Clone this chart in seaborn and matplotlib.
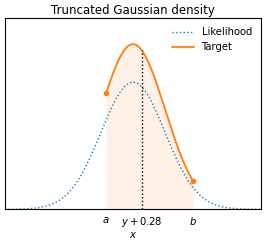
import numpy as np
import pandas as pd
import matplotlib
matplotlib.use("Agg")
import matplotlib.pyplot as plt
import seaborn as sns
from math import erf, sqrt, pi

sns.set_style("white")
plt.rcParams['font.family'] = ['DejaVu Sans']
plt.rcParams['text.color'] = 'black'
plt.rcParams['axes.labelcolor'] = 'black'
plt.rcParams['xtick.color'] = 'black'

# Parameters
mu = 0.0
sigma = 1.0
a_val = -0.84
b_val = 1.88
mean_offset = 0.28
x_min, x_max = -4.0, 4.0
tick_labels = ["$a$", "$y + 0.28$", "$b$"]
series_names = ["Likelihood", "Target"]

def pdf(x):
    return np.exp(-0.5 * ((x - mu) / sigma) ** 2) / (sigma * sqrt(2 * pi))

def cdf(x):
    return 0.5 * (1 + erf((x - mu) / (sigma * sqrt(2))))

Z = cdf(b_val) - cdf(a_val)
xs = np.linspace(x_min, x_max, 801)
xt = np.linspace(a_val, b_val, 400)
df_l = pd.DataFrame({"x": xs, "y": pdf(xs), "s": series_names[0]})
df_t = pd.DataFrame({"x": xt, "y": pdf(xt) / Z, "s": series_names[1]})

fig, ax = plt.subplots(figsize=(2.66, 2.42), dpi=100)
sns.lineplot(data=df_l, x="x", y="y", ax=ax, color="tab:blue", linestyle=":",
             lw=1.0, label=series_names[0])
sns.lineplot(data=df_t, x="x", y="y", ax=ax, color="tab:orange", lw=1.3,
             label=series_names[1])
ax.fill_between(xt, 0, pdf(xt) / Z, color="tab:orange", alpha=0.1, lw=0)
ax.scatter([a_val, b_val], [pdf(a_val) / Z, pdf(b_val) / Z], color="tab:orange",
           s=16, zorder=5, linewidths=0)
ax.vlines(mean_offset, 0, pdf(mean_offset) / Z, color="black", linestyle=":", lw=1.0)

ax.set_xlim(x_min, x_max)
ax.set_ylim(0, 0.6)
ax.set_yticks([])
ax.set_xticks([a_val, mean_offset, b_val])
ax.set_xticklabels(tick_labels, fontsize=7.2)
ax.tick_params(axis="x", length=0, pad=4, bottom=True)
ax.set_xlabel("$x$", fontsize=7.2, labelpad=1)
ax.set_ylabel("")
ax.set_title("Truncated Gaussian density", fontsize=8.5, pad=3)
for sp in ax.spines.values():
    sp.set_color("black")
    sp.set_linewidth(0.8)
ax.legend(loc="upper right", frameon=False, fontsize=7.2, handlelength=2.2)

fig.subplots_adjust(left=0.019, right=0.981, top=0.925, bottom=0.135)
fig.savefig("out.png", dpi=100)
